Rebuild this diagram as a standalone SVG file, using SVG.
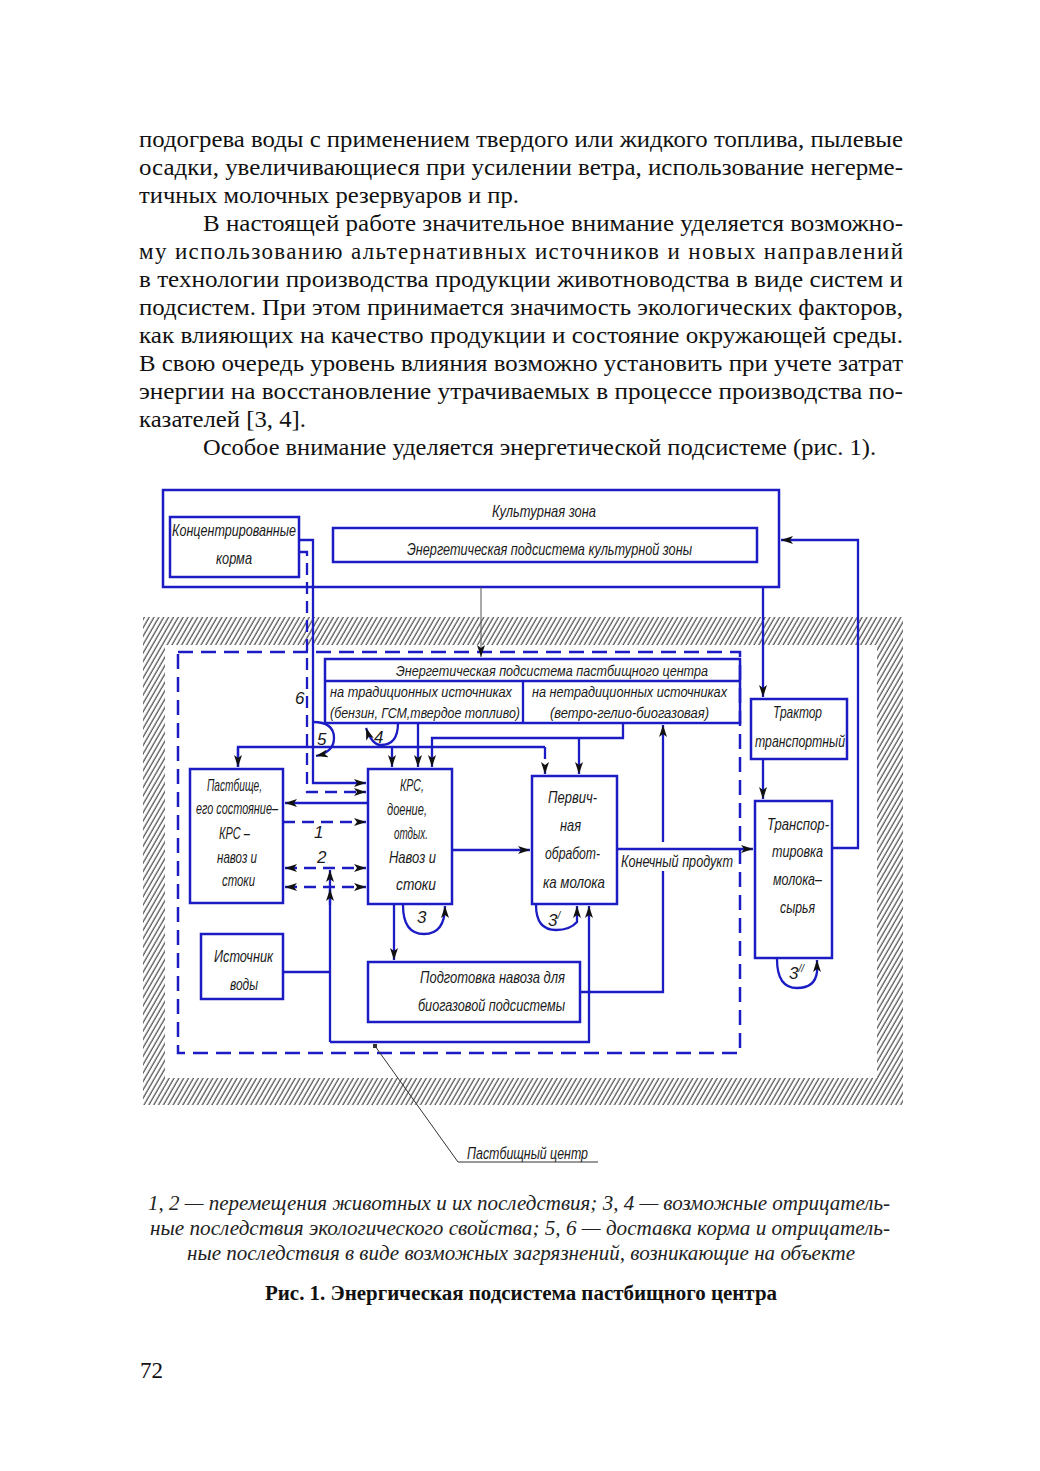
<svg xmlns="http://www.w3.org/2000/svg" width="1040" height="1471" viewBox="0 0 1040 1471">
<style>
.pg{font-family:"Liberation Serif","Times New Roman",serif;font-size:23px;fill:#111}
.cap{font-family:"Liberation Serif","Times New Roman",serif;font-size:20px;font-style:italic;fill:#222}
.ttl{font-family:"Liberation Serif","Times New Roman",serif;font-size:20px;font-weight:bold;fill:#111}
.d{font-family:"Liberation Sans",Arial,sans-serif;font-size:17px;font-style:italic;fill:#1a1a1a}
.s{font-size:15px}
.box{fill:none;stroke:#1c1cc4;stroke-width:2.5}
.ln{fill:none;stroke:#1c1cc4;stroke-width:2.3}
.dl{fill:none;stroke:#1c1cc4;stroke-width:2.3;stroke-dasharray:12 7}
.zone{fill:none;stroke:#1c1cc4;stroke-width:2.5;stroke-dasharray:15 8}
.thin{fill:none;stroke:#555;stroke-width:1}
</style>
<defs>
<marker id="ar" markerUnits="userSpaceOnUse" markerWidth="14" markerHeight="8" refX="12" refY="4" orient="auto">
<path d="M0,0 L12,4 L0,8 L3,4 z" fill="#111"/>
</marker>
<marker id="as" markerUnits="userSpaceOnUse" markerWidth="14" markerHeight="8" refX="0" refY="4" orient="auto">
<path d="M12,0 L0,4 L12,8 L9,4 z" fill="#111"/>
</marker>
<pattern id="hatch" patternUnits="userSpaceOnUse" width="4.2" height="10" patternTransform="rotate(30)">
<line x1="1" y1="0" x2="1" y2="10" stroke="#3a3a3a" stroke-width="1.1"/>
</pattern>
</defs>
<rect width="1040" height="1471" fill="#fff"/>

<g id="page-text">
<text class="pg" x="139" y="147" textLength="764" lengthAdjust="spacingAndGlyphs">подогрева воды с применением твердого или жидкого топлива, пылевые</text>
<text class="pg" x="139" y="175" textLength="764" lengthAdjust="spacingAndGlyphs">осадки, увеличивающиеся при усилении ветра, использование негерме-</text>
<text class="pg" x="139" y="203" textLength="380" lengthAdjust="spacingAndGlyphs">тичных молочных резервуаров и пр.</text>
<text class="pg" x="203" y="231" textLength="700" lengthAdjust="spacingAndGlyphs">В настоящей работе значительное внимание уделяется возможно-</text>
<text class="pg" x="139" y="259" textLength="764" lengthAdjust="spacing">му использованию альтернативных источников и новых направлений</text>
<text class="pg" x="139" y="287" textLength="764" lengthAdjust="spacingAndGlyphs">в технологии производства продукции животноводства в виде систем и</text>
<text class="pg" x="139" y="315" textLength="764" lengthAdjust="spacingAndGlyphs">подсистем. При этом принимается значимость экологических факторов,</text>
<text class="pg" x="139" y="343" textLength="764" lengthAdjust="spacingAndGlyphs">как влияющих на качество продукции и состояние окружающей среды.</text>
<text class="pg" x="139" y="371" textLength="764" lengthAdjust="spacingAndGlyphs">В свою очередь уровень влияния возможно установить при учете затрат</text>
<text class="pg" x="139" y="399" textLength="764" lengthAdjust="spacingAndGlyphs">энергии на восстановление утрачиваемых в процессе производства по-</text>
<text class="pg" x="139" y="427" textLength="167" lengthAdjust="spacingAndGlyphs">казателей [3, 4].</text>
<text class="pg" x="203" y="455" textLength="673" lengthAdjust="spacingAndGlyphs">Особое внимание уделяется энергетической подсистеме (рис. 1).</text>
</g>

<g id="hatch-ground">
<path d="M143,617 H903 V1105 H143 Z M165,645 V1078 H877 V645 Z" fill="url(#hatch)" fill-rule="evenodd"/>
</g>

<g id="pasture-zone">
<rect class="zone" x="178" y="652" width="562" height="401"/>
</g>

<g id="culture-zone">
<rect class="box" x="163" y="490" width="616" height="97"/>
<text class="d" x="492" y="517" textLength="104" lengthAdjust="spacingAndGlyphs">Культурная зона</text>
</g>
<g id="energy-culture">
<rect class="box" x="333" y="528" width="424" height="34"/>
<text class="d" x="407" y="555" textLength="285" lengthAdjust="spacingAndGlyphs">Энергетическая подсистема культурной зоны</text>
</g>
<g id="feed">
<rect class="box" x="170" y="517" width="129" height="60"/>
<text class="d" x="172" y="536" textLength="124" lengthAdjust="spacingAndGlyphs">Концентрированные</text>
<text class="d" x="216" y="564" textLength="36" lengthAdjust="spacingAndGlyphs">корма</text>
</g>

<g id="energy-pasture">
<rect class="box" x="325" y="659" width="415" height="64"/>
<line class="ln" x1="325" y1="681" x2="740" y2="681"/>
<line class="ln" x1="523" y1="681" x2="523" y2="723"/>
<text class="d s" x="396" y="676" textLength="312" lengthAdjust="spacingAndGlyphs">Энергетическая подсистема пастбищного центра</text>
<text class="d s" x="330" y="697" textLength="182" lengthAdjust="spacingAndGlyphs">на традиционных источниках</text>
<text class="d s" x="330" y="718" textLength="190" lengthAdjust="spacingAndGlyphs">(бензин, ГСМ,твердое топливо)</text>
<text class="d s" x="532" y="697" textLength="195" lengthAdjust="spacingAndGlyphs">на нетрадиционных источниках</text>
<text class="d s" x="550" y="718" textLength="159" lengthAdjust="spacingAndGlyphs">(ветро-гелио-биогазовая)</text>
</g>

<g id="tractor">
<rect class="box" x="751" y="699" width="96" height="60"/>
<text class="d" x="773" y="718" textLength="49" lengthAdjust="spacingAndGlyphs">Трактор</text>
<text class="d" x="755" y="747" textLength="90" lengthAdjust="spacingAndGlyphs">транспортный</text>
</g>

<g id="pasture">
<rect class="box" x="190" y="769" width="93" height="134"/>
<text class="d" x="207" y="791" textLength="55" lengthAdjust="spacingAndGlyphs">Пастбище,</text>
<text class="d" x="196" y="814" textLength="82" lengthAdjust="spacingAndGlyphs">его состояние–</text>
<text class="d" x="219" y="839" textLength="31" lengthAdjust="spacingAndGlyphs">КРС –</text>
<text class="d" x="217" y="863" textLength="40" lengthAdjust="spacingAndGlyphs">навоз и</text>
<text class="d" x="222" y="886" textLength="33" lengthAdjust="spacingAndGlyphs">стоки</text>
</g>

<g id="krs">
<rect class="box" x="368" y="769" width="84" height="135"/>
<text class="d" x="400" y="791" textLength="24" lengthAdjust="spacingAndGlyphs">КРС,</text>
<text class="d" x="387" y="815" textLength="40" lengthAdjust="spacingAndGlyphs">доение,</text>
<text class="d" x="394" y="839" textLength="34" lengthAdjust="spacingAndGlyphs">отдых.</text>
<text class="d" x="389" y="863" textLength="47" lengthAdjust="spacingAndGlyphs">Навоз и</text>
<text class="d" x="396" y="890" textLength="40" lengthAdjust="spacingAndGlyphs">стоки</text>
</g>

<g id="primary">
<rect class="box" x="532" y="776" width="85" height="128"/>
<text class="d" x="548" y="803" textLength="49" lengthAdjust="spacingAndGlyphs">Первич-</text>
<text class="d" x="560" y="831" textLength="21" lengthAdjust="spacingAndGlyphs">ная</text>
<text class="d" x="545" y="859" textLength="55" lengthAdjust="spacingAndGlyphs">обработ-</text>
<text class="d" x="543" y="888" textLength="62" lengthAdjust="spacingAndGlyphs">ка молока</text>
</g>

<g id="transport">
<rect class="box" x="755" y="801" width="77" height="157"/>
<text class="d" x="767" y="830" textLength="62" lengthAdjust="spacingAndGlyphs">Транспор-</text>
<text class="d" x="772" y="857" textLength="51" lengthAdjust="spacingAndGlyphs">тировка</text>
<text class="d" x="773" y="885" textLength="49" lengthAdjust="spacingAndGlyphs">молока–</text>
<text class="d" x="780" y="913" textLength="35" lengthAdjust="spacingAndGlyphs">сырья</text>
</g>

<g id="water">
<rect class="box" x="201" y="934" width="82" height="65"/>
<text class="d" x="214" y="962" textLength="59" lengthAdjust="spacingAndGlyphs">Источник</text>
<text class="d" x="230" y="990" textLength="28" lengthAdjust="spacingAndGlyphs">воды</text>
</g>

<g id="manure-prep">
<rect class="box" x="368" y="962" width="212" height="60"/>
<text class="d" x="420" y="983" textLength="145" lengthAdjust="spacingAndGlyphs">Подготовка навоза для</text>
<text class="d" x="418" y="1011" textLength="147" lengthAdjust="spacingAndGlyphs">биогазовой подсистемы</text>
</g>

<g id="connectors">
<path class="ln" d="M299,540 H313 V783 H366" marker-end="url(#ar)"/>
<path class="dl" d="M299,552 H307 V792 H366" marker-end="url(#ar)"/>
<path class="thin" d="M481,587 V657" marker-end="url(#ar)"/>
<path class="ln" d="M763,587 V697" marker-end="url(#ar)"/>
<path class="ln" d="M763,759 V799" stroke-width="1.5" marker-end="url(#ar)"/>
<path class="ln" d="M832,848 H858 V540 H781" marker-end="url(#ar)"/>
<path class="ln" d="M238,767 V747 H545"/>
<path class="ln" d="M238,747 V767" marker-end="url(#ar)"/>
<path class="ln" d="M392,747 V767" marker-end="url(#ar)"/>
<path class="dl" d="M545,747 V774" stroke-dasharray="6 4" marker-end="url(#ar)"/>
<path class="ln" d="M418,723 V767" marker-end="url(#ar)"/>
<path class="ln" d="M623,723 V738 H432 V767" marker-end="url(#ar)"/>
<path class="ln" d="M579,738 V774" marker-end="url(#ar)"/>
<path class="ln" d="M368,803 H285" marker-end="url(#ar)"/>
<path class="dl" d="M283,822 H366" marker-end="url(#ar)"/>
<path class="dl" d="M285,868 H366" marker-start="url(#as)" marker-end="url(#ar)"/>
<path class="dl" d="M285,887 H366" marker-start="url(#as)" marker-end="url(#ar)"/>
<path class="ln" d="M330,1042 V870" marker-end="url(#ar)"/>
<path class="ln" d="M330,905 V889" marker-end="url(#ar)"/>
<path class="ln" d="M283,972 H330"/>
<path class="ln" d="M330,1042 H589 V906" marker-end="url(#ar)"/>
<path class="ln" d="M452,850 H530" marker-end="url(#ar)"/>
<path class="ln" d="M394,904 V960" marker-end="url(#ar)"/>
<path class="ln" d="M580,992 H663 V871"/>
<path class="ln" d="M663,842 V725" marker-end="url(#ar)"/>
<path class="ln" d="M617,849 H753" marker-end="url(#ar)"/>
<path class="ln" d="M403,905 Q403,934 424,934 Q445,934 445,906" marker-end="url(#ar)"/>
<path class="ln" d="M536,905 Q536,930 556,930 Q570,930 577,922 V906" marker-end="url(#ar)"/>
<path class="ln" d="M777,959 Q777,988 797,988 Q815,988 817,972 V960" marker-end="url(#ar)"/>
<path class="ln" d="M398,723 Q398,745 381,745 Q372,745 366,728" marker-end="url(#ar)"/>
<path class="ln" d="M313,722 Q334,722 334,738 Q334,752 316,756" marker-end="url(#ar)"/>
<text class="d" x="295" y="704">6</text>
<text class="d" x="317" y="745">5</text>
<text class="d" x="374" y="743" font-size="14">4</text>
<text class="d" x="314" y="838">1</text>
<text class="d" x="317" y="863">2</text>
<text class="d" x="417" y="923">3</text>
<text class="d" x="548" y="926">3<tspan font-size="10" dy="-7">/</tspan></text>
<text class="d" x="789" y="979">3<tspan font-size="10" dy="-7">//</tspan></text>
<text class="d" x="621" y="867" textLength="112" lengthAdjust="spacingAndGlyphs">Конечный продукт</text>
<rect x="373" y="1044" width="4" height="4" fill="#333"/>
<path d="M375,1046 L458,1162 H598" fill="none" stroke="#333" stroke-width="1"/>
<text class="d" x="467" y="1159" textLength="121" lengthAdjust="spacingAndGlyphs">Пастбищный центр</text>
</g>

<g id="caption">
<text class="cap" x="148" y="1210" textLength="742" lengthAdjust="spacingAndGlyphs">1, 2 — перемещения животных и их последствия; 3, 4 — возможные отрицатель-</text>
<text class="cap" x="150" y="1235" textLength="740" lengthAdjust="spacingAndGlyphs">ные последствия экологического свойства; 5, 6 — доставка корма и отрицатель-</text>
<text class="cap" x="187" y="1260" textLength="668" lengthAdjust="spacingAndGlyphs">ные последствия в виде возможных загрязнений, возникающие на объекте</text>
<text class="ttl" x="265" y="1300" textLength="512" lengthAdjust="spacingAndGlyphs">Рис. 1. Энергическая подсистема пастбищного центра</text>
<text class="pg" x="140" y="1378" font-size="20">72</text>
</g>
</svg>
